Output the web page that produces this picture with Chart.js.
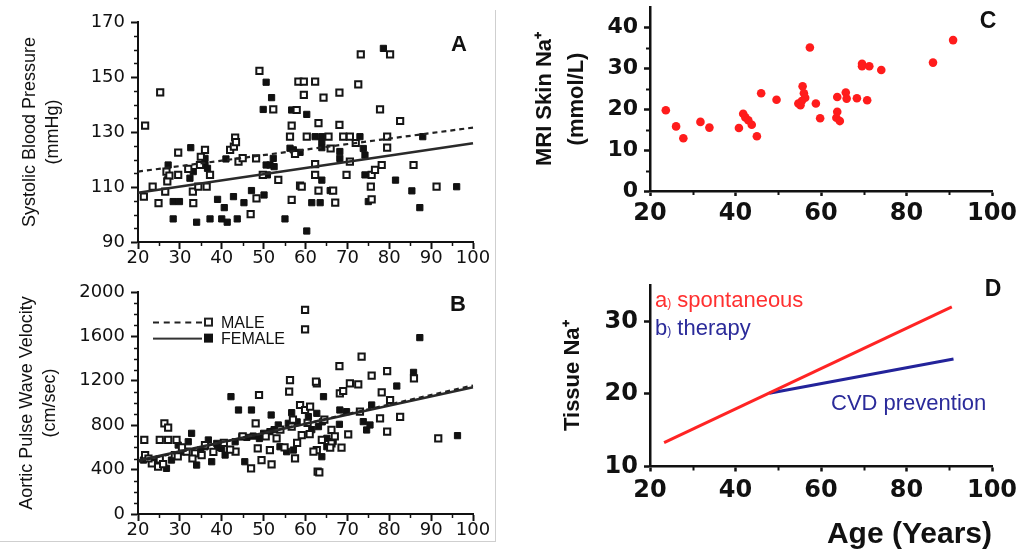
<!DOCTYPE html>
<html>
<head>
<meta charset="utf-8">
<script src="https://cdn.jsdelivr.net/npm/chart.js@4.4.1/dist/chart.umd.min.js"></script>
<style>
  body { margin: 0; background: #fff; }
  #fig { position: relative; width: 1018px; height: 552px; overflow: hidden; font-family: 'Liberation Sans', Arial, sans-serif; color: #111; }
  canvas { position: absolute; }
  .txt { position: absolute; white-space: nowrap; line-height: 1; }
  .letter { font-weight: bold; font-size: 22px; transform: translate(-50%, -50%); }
  .rule { position: absolute; background: #cfcfcf; }
  .key { position: absolute; font-size: 16px; transform: translateY(-50%); }
  .key span { display: inline-block; vertical-align: middle; }
</style>
</head>
<body>
<div id="fig">
  <canvas id="panelA" width="495" height="270" style="left:0;top:0"></canvas>
  <canvas id="panelB" width="495" height="272" style="left:0;top:270px"></canvas>
  <canvas id="panelC" width="518" height="270" style="left:500px;top:0"></canvas>
  <canvas id="panelD" width="518" height="282" style="left:500px;top:270px"></canvas>

  <div class="rule" style="left:495px;top:10px;width:1px;height:532px"></div>
  <div class="rule" style="left:0;top:541px;width:496px;height:1px"></div>

  <div class="txt letter" style="left:459px;top:44px">A</div>
  <div class="txt letter" style="left:458px;top:304px">B</div>
  <div class="txt letter" style="left:988px;top:20px;font-size:23px">C</div>
  <div class="txt letter" style="left:993px;top:288px;font-size:23px">D</div>

  <!-- legend for the two sexes in panel B -->
  <div class="txt key" style="left:153px;top:322px">
    <span style="width:49px;border-top:2px dashed #222"></span><span style="width:5px;height:5px;border:2px solid #222;margin-left:2px"></span><span style="margin-left:8px">MALE</span>
  </div>
  <div class="txt key" style="left:153px;top:338px">
    <span style="width:49px;border-top:2px solid #333"></span><span style="width:9px;height:9px;background:#111;margin-left:2px"></span><span style="margin-left:8px">FEMALE</span>
  </div>

  <!-- annotations in panel D -->
  <div class="txt" style="left:655px;top:300px;transform:translateY(-50%);font-size:22px;color:#ff3030">a<span style="font-size:12px">)</span> spontaneous</div>
  <div class="txt" style="left:655px;top:328px;transform:translateY(-50%);font-size:22px;color:#2b2b9a">b<span style="font-size:12px">)</span> therapy</div>
  <div class="txt" style="left:831px;top:403px;transform:translateY(-50%);font-size:22px;color:#2b2b9a">CVD prevention</div>
</div>

<script>
// ---- panel A: systolic blood pressure vs age ----
const maleSbp = [
  [21.7,132.3],[25.3,144.4],[21.4,106.5],[23.5,110.1],[24.9,104.1],[26.5,108.3],[26.8,115.6],[27.5,114.1],
  [29.6,122.5],[29.6,114.4],[32,116.6],[33.1,108.3],[33.2,104.1],[36,123.5],[34.8,118],[34.4,110.1],
  [36.4,110.1],[37.2,114.4],[42,123.5],[42.9,124.7],[43.2,128],[43.4,126.3],[44,119.2],[46.9,100.1],
  [48.3,105.9],[48.2,120.4],[49,152.2],[49.8,114.4],[52.3,138.2],[53.5,112.6],[56.7,105.3],[56.3,128.3],
  [56.7,132.3],[57.9,138],[58.3,148.3],[59.6,148.3],[59.6,143.5],[58.7,110.5],[62.3,148.3],[64.3,142.5],
  [68.1,144.3],[72.6,147.3],[73.2,158.2],[80.2,158.2],[77.8,138.2],[82.6,134],[63.1,133.2],[68.1,132.6],
  [60.3,128.3],[65.5,128.3],[69,128.3],[70.6,128.3],[79.5,128.3],[79.5,124.3],[62.3,118.3],[70.6,119.2],
  [78.2,118],[85.8,118],[62.3,114.4],[69.8,114.4],[75.8,114.4],[76.6,116.2],[59.1,110.1],[63.1,108.7],
  [66.6,108.7],[75.6,110.1],[91.3,110.1],[67.1,104.3],[75.8,105.5],[57.5,122],[27,112],[35,121],
  [45,120.5],[72,126],[66,124]
];
const femaleSbp = [
  [27.2,118],[27,112.6],[28.4,104.7],[29.9,104.7],[28.4,98.4],[32.6,124.3],[32.4,113.2],[33.2,115.6],
  [34,97.2],[36,120.4],[36,118],[36.6,116.8],[37.2,98.4],[39,105.5],[40.6,102.5],[40,98.4],[41.3,97.2],
  [41,120.2],[42.8,106.5],[43.7,98.4],[45.3,104.3],[47.1,108.7],[50.1,107.1],[50.6,118],[51.5,118],
  [50.9,114.4],[50.6,148.1],[51.9,142.5],[49.9,138.2],[52.3,120.4],[52.5,117.4],[55.1,98.4],[56.7,138],
  [56.3,124.1],[57.1,123.5],[58.7,122.6],[60.3,136.4],[62.3,128.3],[63.9,128.3],[73,128.3],[88,128.3],
  [63.9,124.3],[63.9,126.5],[68.2,122.9],[68.2,120.4],[73.8,124],[74.2,121.6],[63.9,112.5],[74.2,114.4],
  [65.9,108.7],[81.5,112.5],[85.4,108.6],[96.1,110.1],[87.3,102.5],[61.5,104.3],[63.5,104.3],[75,104.7],
  [60.3,94],[78.6,160.4]
];
const maleSbpFit = [[20, 115.6], [100, 131.6]];
const femaleSbpFit = [[20, 107.9], [100, 125.9]];
const sbpTicks = [90, 110, 130, 150, 170];
const sbpMinor = [95, 100, 105, 115, 120, 125, 135, 140, 145, 155, 160, 165];

// ---- panel B: aortic pulse wave velocity vs age ----
const malePwv = [
  [21.5,667],[25.2,667],[27.2,667],[29.2,667],[26.3,816],[27.2,778],[21.7,531],[23.3,456],[24.8,426],
  [25.2,492],[28.8,531],[31.6,561],[33.6,546],[35.2,531],[48.9,1072],[48.1,817],[43.3,561],[47,411],
  [48.6,591],[49.5,486],[51.9,447],[51.5,576],[53.1,681],[56.1,1102],[56.3,1207],[58.7,982],[56.7,787],
  [57.5,501],[59.1,711],[59.9,937],[61.1,967],[63.9,667],[62.9,381],[62.7,576],[62.7,1177],[66.2,757],
  [66.2,636],[59.9,1838],[59.9,1664],[68.1,1333],[73.4,1417],[62.5,1192],[68.2,1087],[69,1108],
  [70.6,1177],[72.6,1168],[75.8,1246],[79.5,1288],[85.9,1222],[78.2,1096],[82.6,874],[79.5,742],
  [77.8,862],[70.2,718],[63.3,375],[91.7,682],[65.9,598],[68.6,598],[61.9,561],[80.2,1027],[73,922],
  [30.5,600],[38,560],[40.5,640],[45,700],[50.5,700],[54,760],[57,850],[60.5,820],[64.5,850],[67,700],
  [58,640],[36,620],[33,500],[22.5,500],[26,450],[29.5,520],[42,580],[55,600],[61,720]
];
const femalePwv = [
  [21.3,486],[26.8,411],[28,486],[29.6,621],[32,651],[32.8,727],[34,441],[36,606],[36.8,667],[37.6,471],
  [38.8,636],[40.8,531],[40,591],[42.2,1057],[44,937],[47.1,937],[43.2,651],[45.5,471],[44.8,697],
  [47.5,702],[50,727],[51.5,742],[51.8,892],[53.5,802],[53.9,606],[55.9,817],[56.7,913],[57.1,576],
  [55.5,561],[60.7,877],[62.7,907],[63.1,787],[65.1,606],[64.3,1057],[85.8,1276],[87.3,1589],[81.8,1153],
  [73.8,832],[74.6,757],[75.4,802],[68.1,808],[68.2,937],[96.3,706],[63.9,516],[66.6,652],[65.1,682],
  [69.8,922],[75.8,982],[24,470],[30.5,560],[35,580],[39,600],[46,690],[49,680],[52.5,760],[58,830],
  [61.5,760],[64,830]
];
const malePwvFit = [[20, 472], [100, 1158]];
const femalePwvFit = [[20, 482], [100, 1142]];
const pwvTicks = [0, 400, 800, 1200, 1600, 2000];
const pwvMinor = [100, 200, 300, 500, 600, 700, 900, 1000, 1100, 1300, 1400, 1500, 1700, 1800, 1900];

const ageTicksLeft = [20, 30, 40, 50, 60, 70, 80, 90, 100];
const ageMinorLeft = [25, 35, 45, 55, 65, 75, 85, 95];

// ---- panel C: skin sodium by MRI ----
const skinNa = [
  [23.7,19.75],[26.1,15.8],[27.8,12.9],[31.8,16.9],[33.9,15.5],[40.8,15.4],[41.8,18.9],[42.3,18],
  [43,17.3],[43.8,16.2],[45,13.4],[46,23.9],[49.6,22.3],[54.7,21.4],[55.2,21],[55.7,25.6],[56,23.9],
  [56.3,22.8],[55.5,22],[57.4,35.1],[58.8,21.4],[59.8,17.8],[63.8,23],[63.8,19.4],[63.6,17.9],
  [64.4,17.1],[65.8,24.1],[66,22.6],[68.4,22.7],[69.6,31.1],[69.6,30.5],[70.8,22.2],[71.3,30.5],
  [74.1,29.6],[86.2,31.4],[90.9,36.9]
];
const skinTicks = [0, 10, 20, 30, 40];
const skinMinor = [5, 15, 25, 35];

// ---- panel D: tissue sodium course ----
const spontaneous = [[23.3, 13.3], [90.6, 32]];
const therapy = [[47.9, 20.1], [91, 24.8]];
const tissueTicks = [10, 20, 30];

const ageTicksRight = [20, 40, 60, 80, 100];
const ageMinorRight = [30, 50, 70, 90];

const pts = arr => arr.map(([x, y]) => ({ x, y }));

// short unlabeled ticks between the labeled ones
const minorTicks = {
  id: 'minorTicks',
  afterDraw(chart, args, opts) {
    const ctx = chart.ctx;
    ctx.save();
    ctx.strokeStyle = '#111';
    ctx.lineWidth = opts.width;
    ['x', 'y'].forEach(id => {
      const s = chart.scales[id];
      (opts[id] || []).forEach(v => {
        const p = Math.round(s.getPixelForValue(v)) + 0.5;
        ctx.beginPath();
        if (id === 'x') {
          ctx.moveTo(p, s.top);
          ctx.lineTo(p, s.top + opts.len);
        } else {
          ctx.moveTo(s.right, p);
          ctx.lineTo(s.right - opts.len, p);
        }
        ctx.stroke();
      });
    });
    ctx.restore();
  }
};

function axis(o) {
  return {
    type: 'linear',
    min: o.min,
    max: o.max,
    afterBuildTicks: s => { s.ticks = o.ticks.map(v => ({ value: v })); },
    afterFit: s => {
      if (o.width) s.width = o.width;
      if (o.height) s.height = o.height;
      s.paddingTop = 0; s.paddingBottom = 0; s.paddingLeft = 0; s.paddingRight = 0;
    },
    ticks: { font: o.font, color: '#111', padding: o.pad, autoSkip: false, maxRotation: 0,
      callback: v => String(v) },
    grid: { drawOnChartArea: false, tickLength: o.tl, tickWidth: o.lw, tickColor: '#111' },
    border: { color: '#111', width: o.lw },
    title: o.title || { display: false }
  };
}

function openSquares(data) {
  return { data: pts(data), pointStyle: 'rect', pointRadius: 4.4, pointBackgroundColor: '#fff',
    pointBorderColor: '#151515', pointBorderWidth: 2, showLine: false };
}
function filledSquares(data) {
  return { data: pts(data), pointStyle: 'rect', pointRadius: 4.4, pointBackgroundColor: '#111',
    pointBorderColor: '#111', pointBorderWidth: 1, showLine: false };
}
function fitLine(data, color, width, dash) {
  return { data: pts(data), showLine: true, pointRadius: 0, borderColor: color, borderWidth: width,
    borderDash: dash || [], fill: false };
}

const leftTickFont = { family: 'DejaVu Sans', size: 18, lineHeight: 1 };
const leftTitleFont = { family: 'Liberation Sans', size: 18, lineHeight: 1.28 };

function baseOptions(padding, scales, minor) {
  return {
    responsive: false,
    animation: false,
    devicePixelRatio: 1,
    layout: { padding },
    clip: false,
    plugins: { legend: { display: false }, tooltip: { enabled: false }, minorTicks: minor },
    scales
  };
}

Chart.defaults.font.family = 'Liberation Sans';

new Chart(document.getElementById('panelA'), {
  type: 'scatter',
  data: {
    datasets: [
      fitLine(maleSbpFit, '#222', 2.2, [5, 4]),
      fitLine(femaleSbpFit, '#2a2a2a', 2.6),
      openSquares(maleSbp),
      filledSquares(femaleSbp)
    ]
  },
  options: baseOptions({ left: 0, top: 22, right: 22, bottom: 0 }, {
    x: axis({ min: 20, max: 100, ticks: ageTicksLeft, height: 28, font: leftTickFont, pad: 0, tl: 7, lw: 2 }),
    y: axis({ min: 90, max: 170, ticks: sbpTicks, width: 138, font: leftTickFont, pad: 6, tl: 7, lw: 2,
      title: { display: true, text: ['Systolic Blood Pressure', '(mmHg)'], font: leftTitleFont,
        color: '#111', padding: { top: 18.5, bottom: 0 } } })
  }, { x: ageMinorLeft, y: sbpMinor, len: 4, width: 1.5 }),
  plugins: [minorTicks]
});

new Chart(document.getElementById('panelB'), {
  type: 'scatter',
  data: {
    datasets: [
      fitLine(malePwvFit, '#222', 2.2, [5, 4]),
      fitLine(femalePwvFit, '#2a2a2a', 2.6),
      openSquares(malePwv),
      filledSquares(femalePwv)
    ]
  },
  options: baseOptions({ left: 0, top: 22, right: 22, bottom: 0 }, {
    x: axis({ min: 20, max: 100, ticks: ageTicksLeft, height: 28, font: leftTickFont, pad: 0, tl: 7, lw: 2 }),
    y: axis({ min: 0, max: 2000, ticks: pwvTicks, width: 138, font: leftTickFont, pad: 6, tl: 7, lw: 2,
      title: { display: true, text: ['Aortic Pulse Wave Velocity', '(cm/sec)'], font: leftTitleFont,
        color: '#111', padding: { top: 15.5, bottom: 0 } } })
  }, { x: ageMinorLeft, y: pwvMinor, len: 4, width: 1.5 }),
  plugins: [minorTicks]
});

new Chart(document.getElementById('panelC'), {
  type: 'scatter',
  data: {
    datasets: [{
      data: pts(skinNa), pointStyle: 'circle', pointRadius: 4.3,
      pointBackgroundColor: '#ff1c1c', pointBorderWidth: 0, showLine: false
    }]
  },
  options: baseOptions({ left: 0, top: 7, right: 26, bottom: 0 }, {
    x: axis({ min: 20, max: 100, ticks: ageTicksRight, height: 79,
      font: { family: 'DejaVu Sans', size: 24, weight: 'bold', lineHeight: 1 }, pad: 6, tl: 5, lw: 2.5 }),
    y: axis({ min: 0, max: 45, ticks: skinTicks, width: 150,
      font: { family: 'DejaVu Sans', size: 22, weight: 'bold', lineHeight: 1 }, pad: 6, tl: 6, lw: 2.5,
      title: { display: true, text: ['MRI Skin Na\u207A', '(mmol/L)'],
        font: { family: 'Liberation Sans', size: 22, weight: 'bold', lineHeight: 1.45 },
        color: '#111', padding: { top: 29, bottom: 0 } } })
  }, { x: ageMinorRight, y: skinMinor, len: 4, width: 2 }),
  plugins: [minorTicks]
});

new Chart(document.getElementById('panelD'), {
  type: 'scatter',
  data: {
    datasets: [
      fitLine(spontaneous, '#ff2424', 3),
      fitLine(therapy, '#23239a', 3)
    ]
  },
  options: baseOptions({ left: 0, top: 15, right: 26, bottom: 0 }, {
    x: axis({ min: 20, max: 100, ticks: ageTicksRight, height: 85.5,
      font: { family: 'DejaVu Sans', size: 24, weight: 'bold', lineHeight: 1 }, pad: 7, tl: 5, lw: 2.5,
      title: { display: true, text: 'Age (Years)', align: 'end',
        font: { family: 'Liberation Sans', size: 30, weight: 'bold', lineHeight: 1 },
        color: '#111', padding: { top: 0, bottom: 2 } } }),
    y: axis({ min: 10, max: 35, ticks: tissueTicks, width: 150,
      font: { family: 'DejaVu Sans', size: 24, weight: 'bold', lineHeight: 1 }, pad: 6, tl: 6, lw: 2.5,
      title: { display: true, text: 'Tissue Na\u207A',
        font: { family: 'Liberation Sans', size: 22, weight: 'bold', lineHeight: 1.2 },
        color: '#111', padding: { top: 60, bottom: 0 } } })
  }, { x: ageMinorRight, y: [], len: 4, width: 2 }),
  plugins: [minorTicks]
});
</script>
</body>
</html>
